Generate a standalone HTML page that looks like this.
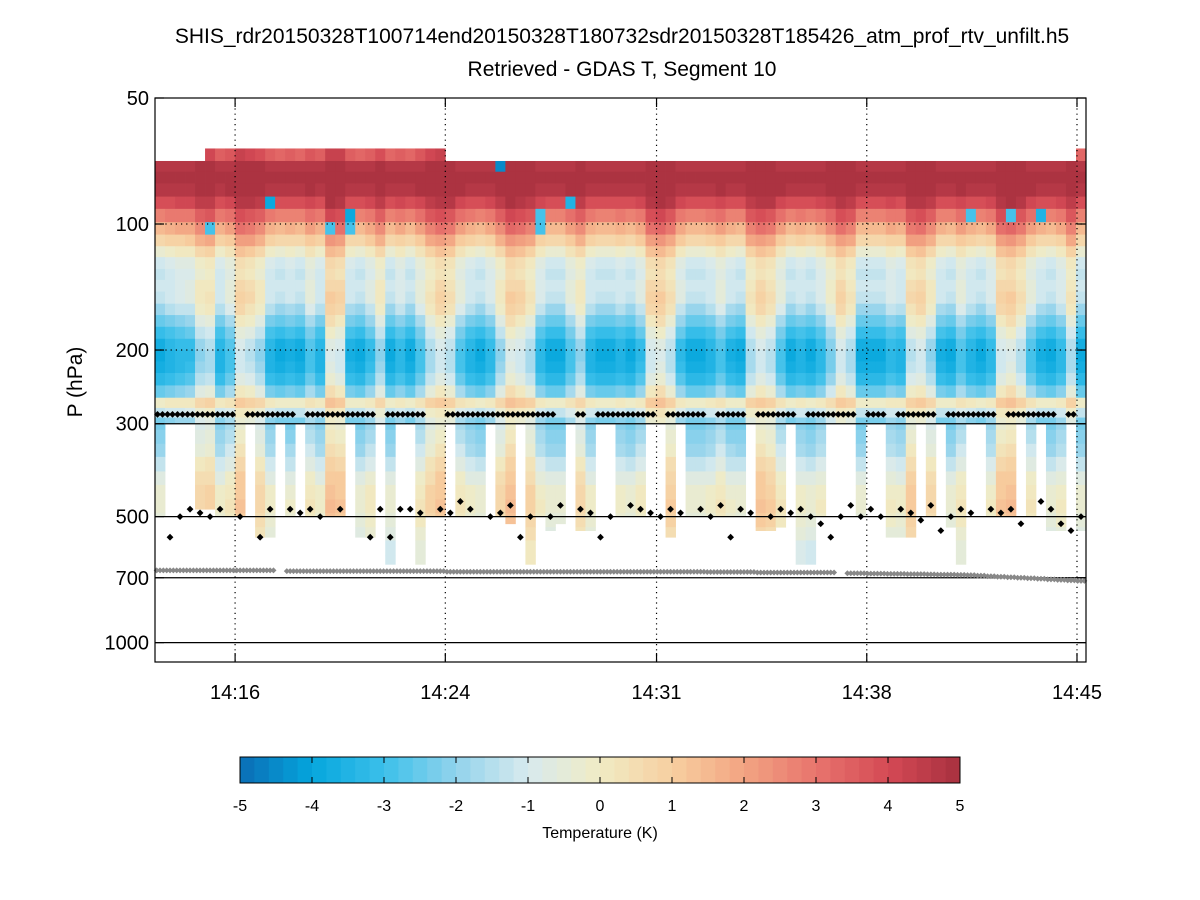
<!DOCTYPE html>
<html><head><meta charset="utf-8">
<style>
html,body{margin:0;padding:0;background:#fff;}
svg{display:block;font-family:"Liberation Sans",sans-serif;}
</style></head>
<body>
<svg id="chart" width="1200" height="900" viewBox="0 0 1200 900">
  <text x="622" y="43" font-size="21" text-anchor="middle">SHIS_rdr20150328T100714end20150328T180732sdr20150328T185426_atm_prof_rtv_unfilt.h5</text>
  <text x="622" y="76" font-size="21" text-anchor="middle">Retrieved - GDAS T, Segment 10</text>
  <text transform="translate(82,382) rotate(-90)" font-size="21" text-anchor="middle">P (hPa)</text>
  <g id="heat"></g>
  <g id="grid"></g>
  <g id="marks"></g>
  <g id="axes"></g>
  <g id="cbar"></g>
  <text x="600" y="838" font-size="16" text-anchor="middle">Temperature (K)</text>
</svg>
<script>
// ---- data ----
const levelEdges = [66,70.7,75,80,86,92,99,106,113,120,128,136,145,155,165,176,188,200,213,227,243,260,275,290,310,335,360,390,420,455,490,530,570,620,680];
const levelProfile = [3.8,4.8,5.0,4.9,4.3,3.3,2.3,1.4,0.5,-0.3,-0.5,-0.3,-0.2,-0.6,-1.2,-1.8,-2.3,-2.5,-2.4,-2.0,-1.2,0.5,-0.6,-1.3,-1.1,-0.8,-0.3,0.1,0.4,0.5,0.3,0.0,-0.3,-0.3];
const levelAnomWeight = [0.3,0.1,0.1,0.2,0.3,0.4,0.5,0.5,0.5,0.5,0.5,0.6,0.7,0.8,0.9,0.9,0.9,0.9,0.9,0.9,0.9,0.4,0.5,0.7,0.7,0.7,0.7,0.6,0.5,0.5,0.5,0.5,0.5,0.5];
const columnAnom = [-1.5,-1.2,-1,-0.8,0.5,0.8,-1.2,-0.5,1.5,1.2,0.5,-1.2,-1.5,-1.3,-1.5,-0.5,-1.2,1.8,1.5,-1.3,-1.5,-0.8,0.5,-1.5,-1.0,-1.5,-0.5,0.8,1.5,1.0,-0.5,-1.2,-1.5,-1.0,0.5,1.8,1.5,0.8,-1.0,-1.5,-1.5,-0.5,0.5,-1.2,-1.5,-1.5,-1.2,-1.5,-0.8,1.5,1.8,1.0,-0.8,-1.5,-1.5,-1.2,-0.5,-1.3,-1.5,0.8,1.5,1.0,-0.5,-1.5,-1.2,-1.5,-1.0,0.2,1.5,0.8,-1.5,-1.5,-1.5,-1.0,-1.2,1.2,1.5,0.5,-1.3,-1.5,-0.5,-1.2,-1.5,-1.0,1.5,1.8,1.0,-0.5,-1.3,-1.5,-1.0,0.8,-1.5];
const columnTop = [70.7,70.7,70.7,70.7,70.7,66,66,66,66,66,66,66,66,66,66,66,66,66,66,66,66,66,66,66,66,66,66,66,66,70.7,70.7,70.7,70.7,70.7,70.7,70.7,70.7,70.7,70.7,70.7,70.7,70.7,70.7,70.7,70.7,70.7,70.7,70.7,70.7,70.7,70.7,70.7,70.7,70.7,70.7,70.7,70.7,70.7,70.7,70.7,70.7,70.7,70.7,70.7,70.7,70.7,70.7,70.7,70.7,70.7,70.7,70.7,70.7,70.7,70.7,70.7,70.7,70.7,70.7,70.7,70.7,70.7,70.7,70.7,70.7,70.7,70.7,70.7,70.7,70.7,70.7,70.7,66];
const columnBottom = [500,300,300,300,480,480,500,500,500,300,560,560,300,500,300,500,500,500,500,300,560,560,300,650,300,300,650,500,500,300,500,500,500,300,500,520,300,650,500,540,520,300,540,540,300,300,500,500,500,300,300,560,300,500,500,500,500,500,500,300,540,540,530,300,650,650,500,300,300,300,500,300,300,560,560,560,300,500,300,530,650,300,300,500,500,500,300,500,300,540,540,300,540];
const cloudDot = [285,285,285,285,285,285,285,285,0,285,285,285,285,285,0,285,285,285,285,285,285,285,0,285,285,285,285,0,0,285,285,285,285,285,285,285,285,285,285,285,0,0,285,0,285,285,285,285,285,285,0,285,285,285,285,0,285,285,285,0,285,285,285,285,0,285,285,285,285,285,0,285,285,0,285,285,285,285,0,285,285,285,285,285,0,285,285,285,285,285,0,285,0];
const lowDot = [0,560,500,480,490,500,480,0,500,0,560,480,0,480,490,480,500,0,480,0,0,560,480,560,480,480,490,0,480,490,460,480,0,500,490,470,560,500,0,500,470,0,480,490,560,500,0,470,480,490,500,480,490,0,480,500,470,560,480,490,0,500,480,490,480,500,520,560,500,470,500,480,500,0,480,490,510,470,540,500,480,490,0,480,490,480,520,0,460,480,520,540,500];
const surfaceP = [672,672,672,672,672,672,672,672,672,672,672,672,0,675,675,675,675,675,675,675,675,675,675,675,675,675,675,675,675,677,677,677,677,677,677,677,677,677,677,677,677,677,677,677,677,677,677,677,677,677,677,677,677,677,677,678,678,678,678,678,680,680,680,680,680,680,680,680,0,683,683,684,684,685,685,686,686,687,688,688,689,690,692,694,696,698,700,702,704,706,708,710,712];
const blips = [[5,6,-3],[11,4,-4],[17,6,-3],[19,5,-4],[19,6,-3],[34,1,-4.5],[38,5,-3],[38,6,-3],[41,4,-3.5],[81,5,-3],[85,5,-3],[88,5,-3.5]];
const yTicks = [50,100,200,300,500,700,1000];
const xTickIdx = [8.0,29.0,50.1,71.1,92.1];
const xTickLabels = ["14:16","14:24","14:31","14:38","14:45"];
const cbTicks = [-5,-4,-3,-2,-1,0,1,2,3,4,5];

// ---- scales ----
const X0=155,X1=1086,Y0=98,Y1=662;
const nCol = columnAnom.length;
const xs = i => X0 + i*(X1-X0)/nCol;
const ys = p => Y0 + 418.6*Math.log10(p/50);
const stops = [[-5,[10,109,181]],[-4,[5,166,221]],[-3,[60,192,234]],[-2,[146,211,236]],[-1,[216,234,238]],[0,[240,235,196]],[1,[247,207,160]],[2,[242,164,130]],[3,[232,116,109]],[4,[212,74,85]],[5,[168,48,63]]];
function color(v){
  v=Math.max(-5,Math.min(5,v));
  const k=Math.min(Math.floor((v+5)*5),49); const vq=-5+(k+0.5)/5;
  for(let s=0;s<stops.length-1;s++){
    if(vq<=stops[s+1][0]){const t=(vq-stops[s][0]);const a=stops[s][1],b=stops[s+1][1];
      return `rgb(${Math.round(a[0]+(b[0]-a[0])*t)},${Math.round(a[1]+(b[1]-a[1])*t)},${Math.round(a[2]+(b[2]-a[2])*t)})`;}
  }
  return 'rgb(168,48,63)';
}
const NS='http://www.w3.org/2000/svg';
function mk(tag,attrs,parent){const e=document.createElementNS(NS,tag);for(const k in attrs)e.setAttribute(k,attrs[k]);parent.appendChild(e);return e;}

// ---- heatmap ----
const heat=document.getElementById('heat');
for(let c=0;c<nCol;c++){
  for(let l=0;l<levelProfile.length;l++){
    const pt=levelEdges[l],pb=levelEdges[l+1];
    if(pt<columnTop[c]-0.01) continue;
    if(pt>=columnBottom[c]) continue;
    let v=levelProfile[l]+columnAnom[c]*levelAnomWeight[l];
    for(const b of blips){if(b[0]===c&&b[1]===l)v=b[2];}
    const r=mk('rect',{x:xs(c).toFixed(2),y:ys(pt).toFixed(2),width:(xs(c+1)-xs(c)+0.4).toFixed(2),height:(ys(Math.min(pb,columnBottom[c]))-ys(pt)+0.4).toFixed(2),fill:color(v)},heat);
    
    
  }
}

// ---- grid ----
const grid=document.getElementById('grid');
[100,200].forEach(p=>{const g=mk('line',{x1:X0,x2:X1,y1:ys(p),y2:ys(p),stroke:'#000','stroke-width':1.2,'stroke-dasharray':'1.2,4'},grid);
  
  });
[300,500,700,1000].forEach(p=>{const g=mk('line',{x1:X0,x2:X1,y1:ys(p),y2:ys(p),stroke:'#000','stroke-width':1.2},grid);
  
  });
xTickIdx.forEach(i=>{const g=mk('line',{x1:xs(i),x2:xs(i),y1:Y0,y2:Y1,stroke:'#000','stroke-width':1.2,'stroke-dasharray':'1.2,4'},grid);
  
  });

// ---- markers ----
const marks=document.getElementById('marks');
function diamond(x,y,s,fill,name){const d=mk('path',{d:`M${x-s},${y}L${x},${y-s}L${x+s},${y}L${x},${y+s}Z`,fill:fill},marks);
  
  }
const cw=(X1-X0)/nCol;
for(let c=0;c<nCol;c++){
  if(cloudDot[c]){diamond(xs(c)+cw*0.25,ys(cloudDot[c]),3.4,'#000','cloud-top-dot');diamond(xs(c)+cw*0.75,ys(cloudDot[c]),3.4,'#000','cloud-top-dot');}
  if(lowDot[c]){diamond(xs(c)+cw*0.5,ys(lowDot[c]),3.4,'#000','lower-cloud-dot');}
  if(surfaceP[c]){for(let k=0;k<3;k++)diamond(xs(c)+cw*(k+0.5)/3,ys(surfaceP[c]),3,'#888','surface-pressure-dot');}
}

// ---- axes ----
const axes=document.getElementById('axes');
const frame=mk('rect',{x:X0,y:Y0,width:X1-X0,height:Y1-Y0,fill:'none',stroke:'#000','stroke-width':1.2},axes);


yTicks.forEach(p=>{const y=ys(p);
  mk('line',{x1:X0,x2:X0+9,y1:y,y2:y,stroke:'#000','stroke-width':1.2},axes);
  mk('line',{x1:X1-9,x2:X1,y1:y,y2:y,stroke:'#000','stroke-width':1.2},axes);
  const t=mk('text',{x:X0-6,y:y+7,'font-size':20,'text-anchor':'end'},axes);t.textContent=p;
  
  });
xTickIdx.forEach((i,k)=>{const x=xs(i);
  mk('line',{x1:x,x2:x,y1:Y1-9,y2:Y1,stroke:'#000','stroke-width':1.2},axes);
  mk('line',{x1:x,x2:x,y1:Y0,y2:Y0+9,stroke:'#000','stroke-width':1.2},axes);
  const t=mk('text',{x:x,y:699,'font-size':20,'text-anchor':'middle'},axes);t.textContent=xTickLabels[k];
  
  });

// ---- colorbar ----
const cbar=document.getElementById('cbar');
const CB0=240,CB1=960,CBy=757,CBh=26;
for(let k=0;k<50;k++){const v=-5+(k+0.5)/5;
  const r=mk('rect',{x:CB0+k*(CB1-CB0)/50,y:CBy,width:(CB1-CB0)/50+0.5,height:CBh,fill:color(v)},cbar);
  
  }
const cbf=mk('rect',{x:CB0,y:CBy,width:CB1-CB0,height:CBh,fill:'none',stroke:'#000','stroke-width':1},cbar);


cbTicks.forEach(v=>{const x=CB0+(v+5)/10*(CB1-CB0);
  mk('line',{x1:x,x2:x,y1:CBy,y2:CBy+6,stroke:'#000'},cbar);
  mk('line',{x1:x,x2:x,y1:CBy+CBh-6,y2:CBy+CBh,stroke:'#000'},cbar);
  const t=mk('text',{x:x,y:811,'font-size':16,'text-anchor':'middle'},cbar);t.textContent=v;
  
  });
</script>
</body></html>
